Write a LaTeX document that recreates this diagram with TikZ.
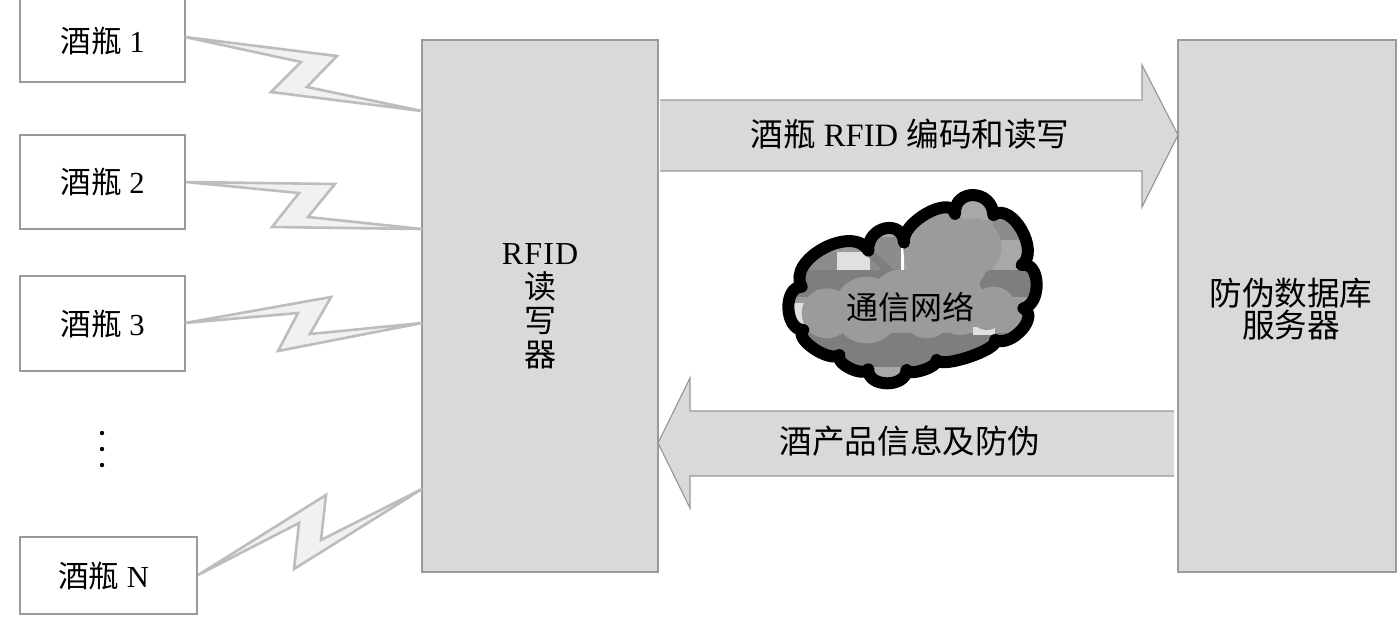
\documentclass[tikz,border=0pt]{standalone}
\usepackage{fontspec}
\setmainfont{Liberation Serif}
\newfontfamily\cjk{Noto Sans CJK SC}
\newcommand{\zh}[1]{{\cjk #1}}
\definecolor{edgegray}{HTML}{9A9A9A}
\definecolor{blockgray}{HTML}{D9D9D9}
\definecolor{boltline}{HTML}{BDBDBD}
\definecolor{boltfill}{HTML}{F1F1F1}
\definecolor{cloudA}{HTML}{8C8C8C}
\definecolor{cloudB}{HTML}{9B9B9B}
\definecolor{cloudC}{HTML}{A8A8A8}
\definecolor{cloudD}{HTML}{7E7E7E}
\definecolor{cloudE}{HTML}{E0E0E0}
% bump: from (#1,#2) through peak (#3,#4) to (#5,#6)
\newcommand{\bmp}[6]{.. controls ({#1+1.33*(#3-(#1+#5)/2)},{#2+1.33*(#4-(#2+#6)/2)}) and ({#5+1.33*(#3-(#1+#5)/2)},{#6+1.33*(#4-(#2+#6)/2)}) .. (#5,#6)}
\newcommand{\cloudpath}{
  (130,450) \bmp{130}{450}{85}{385}{125}{320}
  \bmp{125}{320}{190}{205}{325}{212}
  \bmp{325}{212}{375}{145}{432}{188}
  \bmp{432}{188}{500}{100}{585}{102}
  \bmp{585}{102}{640}{45}{700}{105}
  \bmp{700}{105}{785}{150}{785}{255}
  \bmp{785}{255}{830}{310}{790}{385}
  \bmp{790}{385}{785}{450}{705}{480}
  \bmp{705}{480}{630}{530}{530}{540}
  \bmp{530}{540}{490}{570}{440}{570}
  \bmp{440}{570}{380}{610}{325}{568}
  \bmp{325}{568}{270}{565}{238}{525}
  \bmp{238}{525}{160}{505}{130}{450} -- cycle
}
\tikzset{
  px/.style={x=0.5pt,y=-0.5pt},
  bottlebox/.style={draw=edgegray,fill=white,line width=0.7pt,inner sep=0pt,outer sep=0pt,font=\fontsize{15.3}{17}\selectfont},
  bigblock/.style={draw=edgegray,fill=blockgray,line width=0.7pt,inner sep=0pt,outer sep=0pt,align=center,font=\fontsize{16}{17}\selectfont},
  bolt/.style={draw=boltline,fill=boltfill,line width=1.3pt,line join=miter},
  blockarrow/.style={draw=edgegray,fill=blockgray,line width=0.6pt},
  arrowtext/.style={inner sep=0pt,font=\fontsize{16.3}{18}\selectfont},
}
\begin{document}
\begin{tikzpicture}[px]
\useasboundingbox (0,0) rectangle (1400,618);
\fill[white] (0,0) rectangle (1400,618);

\node[bottlebox,minimum width=82.5pt,minimum height=41.5pt] (b1) at (102.5,40.5) {\zh{酒瓶} 1};
\node[bottlebox,minimum width=82.5pt,minimum height=47pt] (b2) at (102.5,182) {\zh{酒瓶} 2};
\node[bottlebox,minimum width=82.5pt,minimum height=47.5pt] (b3) at (102.5,323.5) {\zh{酒瓶} 3};
\node[bottlebox,minimum width=88.5pt,minimum height=38.5pt] (bn) at (108.5,575.5) {\hspace*{-5pt}\zh{酒瓶} N};
\node[bigblock,minimum width=118pt,minimum height=266pt] (reader) at (540,306) {R\kern.6pt F\kern.6pt I\kern.6pt D\\\zh{读}\\\zh{写}\\\zh{器}};
\node[bigblock,minimum width=109pt,minimum height=266pt] (server) at (1287,306) {};
\node[inner sep=0pt,align=center,font=\fontsize{16.3}{16.2}\selectfont] (servertext) at (1291,309) {\zh{防伪数据库}\\\zh{服务器}};

% dots
\foreach \yy in {433,449,465} \fill (102,\yy) circle[radius=2.2];

% wireless bolts
\coordinate (s1) at (185,37);  \coordinate (e1) at (422,111);
\coordinate (s2) at (186,182); \coordinate (e2) at (422,229);
\coordinate (s3) at (185,323); \coordinate (e3) at (422,323);
\coordinate (sn) at (198,575); \coordinate (en) at (422,489);
\draw[bolt] (s1) -- (337,56) -- (307,87) -- (e1) -- (271,92) -- (301,62) -- cycle;
\draw[bolt] (s2) -- (335,184) -- (308,217) -- (e2) -- (272,227) -- (299,193) -- cycle;
\draw[bolt] (s3) -- (331,297) -- (310,334) -- (e3) -- (278,351) -- (298,313) -- cycle;
\draw[bolt] (sn) -- (326,495) -- (321,540) -- (en) -- (294,569) -- (299,523) -- cycle;

% block arrows
\draw[blockarrow] (660,100) -- (1142,100) -- (1142,65) -- (1178,135) -- (1142,207) -- (1142,171) -- (660,171);
\node[arrowtext] (toplabel) at (910,134) {\zh{酒瓶} RFID \zh{编码和读写}};
\draw[blockarrow] (1174,411) -- (690,411) -- (690,378) -- (658,443) -- (690,508) -- (690,476) -- (1174,476);
\node[arrowtext] (botlabel) at (910,441) {\zh{酒产品信息及防伪}};

% cloud
\begin{scope}[shift={(760,180)},x=0.16667pt,y=-0.16667pt]
  \begin{scope}
    \clip \cloudpath;
    \fill[cloudB] (0,0) rectangle (900,700);
    \fill[cloudC] (330,140) rectangle (440,270);
    \fill[cloudA] (100,215) rectangle (230,350);
    \fill[cloudE] (232,215) rectangle (330,270);
    \fill[cloudA] (330,170) rectangle (425,270);
    \fill[white] (424,190) rectangle (432,270);
    \fill[cloudD] (100,270) rectangle (440,350);
    \fill[cloudE] (90,370) rectangle (140,460);
    \fill[cloudD] (130,460) rectangle (800,620);
    \fill[cloudA] (700,120) rectangle (800,180);
    \fill[cloudC] (700,180) rectangle (800,270);
    \fill[cloudD] (660,270) rectangle (830,350);
    \fill[cloudC] (590,60) rectangle (700,120);
    \fill[cloudC] (330,560) rectangle (420,620);
    \draw[cloudD,line width=4pt] (320,210) -- (390,275);
    \draw[cloudD,line width=4pt] (455,470) -- (455,530);
    % inner puffs
    \fill[cloudB] (200,400) circle[radius=75] (320,390) circle[radius=100] (420,360) circle[radius=90]
      (500,400) circle[radius=75] (600,380) circle[radius=85] (700,390) circle[radius=70]
      (560,230) circle[radius=125] (640,200) circle[radius=85] (500,210) circle[radius=70];
    \fill[cloudE] (640,440) rectangle (705,465);
    \fill[cloudB] (680,400) circle[radius=50];
  \end{scope}
  \draw[black,line width=6pt,line join=round] \cloudpath;
\end{scope}
\node[inner sep=0pt,font=\fontsize{16}{18}\selectfont] (net) at (910,307) {\zh{通信网络}};
\end{tikzpicture}
\end{document}
